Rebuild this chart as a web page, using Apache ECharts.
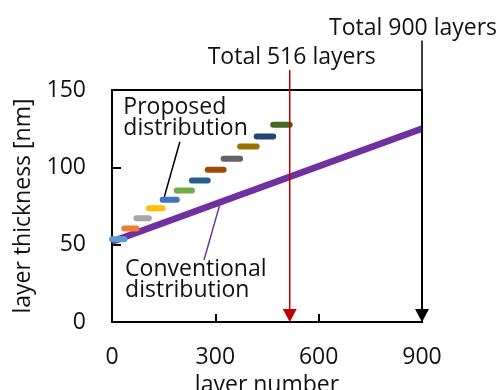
<!DOCTYPE html>
<html>
<head>
<meta charset="utf-8">
<script src="https://cdn.jsdelivr.net/npm/echarts@6/dist/echarts.min.js"></script>
<style>
  html, body { margin: 0; padding: 0; background: #fff; }
  #chart { width: 500px; height: 390px; }
</style>
</head>
<body>
<div id="chart"></div>
<script>
// Axis tick values
const xTicks = [0, 300, 600, 900];
const yTicks = [0, 50, 100, 150];

// Conventional distribution: thickness grows linearly over all layers
const conventionalLayers = [0, 900];
const conventionalThickness = [52, 125];

// Proposed distribution: 12 thickness steps over the first 516 layers
const proposedStepStart = [0, 36, 71, 107, 147, 188, 232, 278, 324, 372, 420, 468];
const proposedStepEnd   = [36, 71, 107, 147, 188, 232, 278, 324, 372, 420, 468, 516];
const proposedThickness = [53.5, 60.5, 67, 73.5, 79, 85, 91.5, 98.5, 105.5, 113.5, 120, 127.5];

// Total layer counts marked with arrows
const totalLayers = [516, 900];
const totalLabels = ['Total 516 layers', 'Total 900 layers'];

// Annotation texts
const noteTexts = ['Proposed\ndistribution', 'Conventional\ndistribution'];

// ---- styling / placement ----
const FONT = '"Open Sans", "Noto Sans", sans-serif';
const TEXT = '#111';
const stepColors = ['#5B9BD5', '#ED7D31', '#A5A5A5', '#FFC000', '#4472C4', '#70AD47',
                    '#255E91', '#9E480E', '#636363', '#997300', '#264478', '#43682B'];
const markerColors = ['#C00000', '#000000'];
const markerTop = [163, 182];          // arrow start (data units, above the plot)
const markerLabelShift = [2, -9];      // px
// annotation anchors and leader lines in data coordinates
const noteAnchor = [[33, 145.5], [38, 41]];
const leaderFrom = [[197, 116.5], [267, 40]];
const leaderTo = [[152, 81], [315, 77.5]];
const leaderColors = ['#000000', '#7030A0'];

const chart = echarts.init(document.getElementById('chart'));

const option = {
  animation: false,
  backgroundColor: '#fff',
  grid: {
    left: 112, right: 78, top: 90, bottom: 68,
    show: true, borderColor: '#000', borderWidth: 2,
    containLabel: false, outerBoundsMode: 'none'
  },
  xAxis: {
    type: 'value',
    min: xTicks[0], max: xTicks[xTicks.length - 1], interval: xTicks[1] - xTicks[0],
    name: 'layer number', nameLocation: 'middle', nameGap: 46,
    nameTextStyle: { fontFamily: FONT, fontSize: 23, color: TEXT },
    axisLine: { show: true, lineStyle: { color: '#000', width: 2 } },
    axisTick: { show: true, inside: true, length: 8, lineStyle: { color: '#000', width: 2 } },
    axisLabel: { fontFamily: FONT, fontSize: 23, color: TEXT, margin: 24 },
    splitLine: { show: false }
  },
  yAxis: {
    type: 'value',
    min: yTicks[0], max: yTicks[yTicks.length - 1], interval: yTicks[1] - yTicks[0],
    name: 'layer thickness [nm]', nameLocation: 'middle', nameGap: 77, nameRotate: 90,
    nameTextStyle: { fontFamily: FONT, fontSize: 23, color: TEXT },
    axisLine: { show: true, lineStyle: { color: '#000', width: 2 } },
    axisTick: { show: true, inside: true, length: 9, lineStyle: { color: '#000', width: 2 } },
    axisLabel: { fontFamily: FONT, fontSize: 23, color: TEXT, margin: 26 },
    splitLine: { show: false }
  },
  series: [
    {
      name: 'Conventional',
      type: 'line',
      data: conventionalLayers.map((x, i) => [x, conventionalThickness[i]]),
      showSymbol: false,
      lineStyle: { color: '#7030A0', width: 6.5 },
      z: 3
    },
    {
      name: 'Proposed',
      type: 'custom',
      data: proposedThickness.map((v, i) => [proposedStepStart[i], proposedStepEnd[i], v]),
      encode: { x: [0, 1], y: 2 },
      clip: false,
      z: 5,
      renderItem(params, api) {
        const a = api.coord([api.value(0), api.value(2)]);
        const b = api.coord([api.value(1), api.value(2)]);
        return {
          type: 'line',
          shape: { x1: a[0], y1: a[1], x2: b[0], y2: b[1] },
          style: { stroke: stepColors[params.dataIndex], lineWidth: 6, lineCap: 'round' }
        };
      }
    },
    {
      name: 'Totals',
      type: 'custom',
      data: totalLayers.map((x, i) => [x, markerTop[i]]),
      encode: { x: 0, y: 1 },
      clip: false,
      z: 6,
      renderItem(params, api) {
        const i = params.dataIndex;
        const top = api.coord([api.value(0), api.value(1)]);
        const base = api.coord([api.value(0), 0]);
        const c = markerColors[i];
        return {
          type: 'group',
          children: [
            { type: 'line', shape: { x1: top[0], y1: top[1], x2: base[0], y2: base[1] - 10 },
              style: { stroke: c, lineWidth: 1.5 } },
            { type: 'polygon',
              shape: { points: [[base[0] - 7, base[1] - 13], [base[0] + 7, base[1] - 13], [base[0], base[1]]] },
              style: { fill: c } },
            { type: 'text', x: top[0] + markerLabelShift[i], y: top[1] - 1,
              style: { text: totalLabels[i], fontFamily: FONT, fontSize: 23, fill: TEXT,
                       align: 'center', verticalAlign: 'bottom',
                       textAlign: 'center', textVerticalAlign: 'bottom' } }
          ]
        };
      }
    },
    {
      name: 'Notes',
      type: 'custom',
      data: noteTexts.map((t, i) => [noteAnchor[i][0], noteAnchor[i][1]]),
      encode: { x: 0, y: 1 },
      clip: false,
      z: 7,
      renderItem(params, api) {
        const i = params.dataIndex;
        const p = api.coord([api.value(0), api.value(1)]);
        const f = api.coord(leaderFrom[i]);
        const t = api.coord(leaderTo[i]);
        return {
          type: 'group',
          children: [
            { type: 'line', shape: { x1: f[0], y1: f[1], x2: t[0], y2: t[1] },
              style: { stroke: leaderColors[i], lineWidth: 1.5 } },
            { type: 'text', x: p[0], y: p[1],
              style: { text: noteTexts[i], fontFamily: FONT, fontSize: 23, lineHeight: 21, fill: TEXT,
                       align: 'left', verticalAlign: 'top',
                       textAlign: 'left', textVerticalAlign: 'top' } }
          ]
        };
      }
    }
  ]
};

chart.setOption(option);
</script>
</body>
</html>
